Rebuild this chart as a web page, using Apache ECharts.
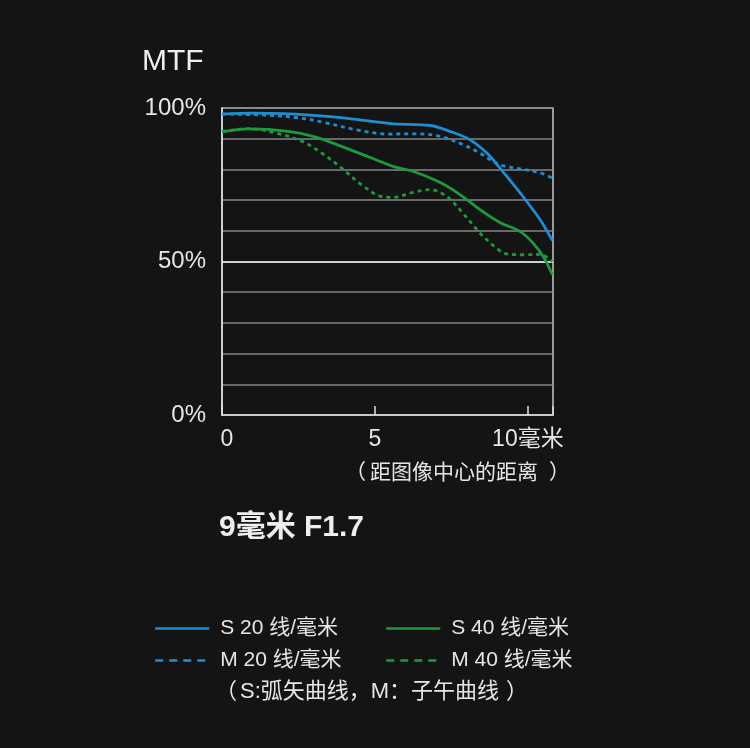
<!DOCTYPE html>
<html>
<head>
<meta charset="utf-8">
<script src="https://cdn.jsdelivr.net/npm/echarts@6/dist/echarts.min.js"></script>
<style>
html,body{margin:0;padding:0;background:#141414;}
#c{width:750px;height:748px;}
</style>
</head>
<body>
<div id="c"></div>
<script>
var FONT = '"Liberation Sans", Arial, "Noto Sans CJK SC", sans-serif';
var seriesNames = ['S 20 线/毫米', 'M 20 线/毫米', 'S 40 线/毫米', 'M 40 线/毫米'];
var yTickLabels = ['0%', '50%', '100%'];
var xTickLabels = ['0', '5', '10毫米'];
var xAxisNote = '距图像中心的距离';
var legendNote = 'S:弧矢曲线，M：子午曲线';

var xS20 = [0, 1.0, 2.4, 3.0, 4.1, 5.2, 5.65, 6.8, 7.45, 8.1, 8.65, 9.08, 9.74, 10.4, 10.8];
var yS20 = [98.0, 98.3, 98.0, 97.6, 96.6, 95.3, 94.8, 94.3, 92.4, 89.7, 85.4, 80.5, 72.4, 63.6, 56.8];

var xM20 = [0, 1.4, 2.5, 3.37, 4.35, 5.43, 6.24, 7.12, 7.87, 8.4, 8.86, 9.18, 9.74, 10.4, 10.8];
var yM20 = [98.0, 97.7, 96.8, 95.2, 93.0, 91.5, 91.6, 90.8, 88.1, 85.5, 82.6, 81.2, 80.2, 78.9, 77.2];

var xS40 = [0, 0.86, 2.17, 3.04, 3.91, 4.78, 5.65, 6.24, 7.12, 7.78, 8.43, 9.08, 9.74, 10.17, 10.5, 10.8];
var yS40 = [92.2, 93.2, 92.4, 90.6, 87.5, 84.1, 80.8, 79.4, 75.8, 71.8, 66.9, 62.7, 59.8, 56.0, 51.6, 45.7];

var xM40 = [0, 0.86, 1.73, 2.6, 3.25, 3.9, 4.56, 5.2, 5.6, 6.24, 6.8, 7.34, 7.87, 8.43, 8.97, 9.3, 9.85, 10.4, 10.8];
var yM40 = [92.3, 93.3, 91.9, 89.2, 85.4, 80.5, 75.0, 71.2, 70.9, 72.5, 73.4, 71.2, 65.8, 59.3, 54.4, 52.5, 52.2, 52.3, 50.0];

var BLUE = '#1b8fd2';
var GREEN = '#1c9a3c';
var TXT = '#e6e6e6';

function pairs(xs, ys) {
  return xs.map(function (x, i) { return [x, ys[i]]; });
}

function mkSeries(name, xs, ys, color, dashed, extra) {
  var s = {
    name: name,
    type: 'line',
    smooth: 0.35,
    symbol: 'none',
    data: pairs(xs, ys),
    lineStyle: { color: color, width: 2.8, type: dashed ? [4, 4] : 'solid' },
    itemStyle: { color: color },
    z: 3
  };
  if (extra) { for (var k in extra) s[k] = extra[k]; }
  return s;
}

function mkLegend(name, left, top, color, dashed) {
  return {
    data: [name],
    left: left,
    top: top,
    orient: 'horizontal',
    padding: 0,
    itemWidth: 54,
    itemHeight: 14,
    itemStyle: { opacity: 0 },
    lineStyle: { color: color, width: 2.5, type: dashed ? [8, 6] : 'solid', opacity: 1 },
    textStyle: { color: TXT, fontSize: 21, fontFamily: FONT, padding: [0, 0, 0, 6] },
    selectedMode: false
  };
}

function parenText(left, top, size, body, padIn, padOut) {
  return {
    type: 'text', left: left, top: top, silent: true,
    style: {
      text: '{p|（}{m|' + body + '}{q|）}',
      fill: TXT,
      rich: {
        p: { fontSize: size, fontFamily: FONT, fill: TXT },
        m: { fontSize: size, fontFamily: FONT, fill: TXT, padding: [0, 0, 0, padIn] },
        q: { fontSize: size, fontFamily: FONT, fill: TXT, padding: [0, 0, 0, padOut] }
      }
    }
  };
}

var chart = echarts.init(document.getElementById('c'), null, { renderer: 'canvas' });

var option = {
  backgroundColor: '#141414',
  animation: false,
  title: [
    { text: 'MTF', left: 142, top: 47, padding: 0,
      textStyle: { color: '#eeeeee', fontSize: 30, fontWeight: 'normal', fontFamily: FONT } },
    { text: '9毫米 F1.7', left: 219, top: 513, padding: 0,
      textStyle: { color: '#eeeeee', fontSize: 30, fontWeight: 'bold', fontFamily: FONT } }
  ],
  legend: [
    mkLegend(seriesNames[0], 154, 618, BLUE, false),
    mkLegend(seriesNames[1], 154, 650, BLUE, true),
    mkLegend(seriesNames[2], 385, 618, GREEN, false),
    mkLegend(seriesNames[3], 385, 650, GREEN, true)
  ],
  grid: {
    left: 222, right: 197, top: 108, bottom: 333,
    show: true, borderColor: '#c8c8c8', borderWidth: 1.5, backgroundColor: 'transparent'
  },
  xAxis: {
    type: 'value', min: 0, max: 10.82, interval: 5,
    axisLine: { show: true, lineStyle: { color: '#e0e0e0', width: 1.5 } },
    axisTick: { show: true, inside: true, length: 9, lineStyle: { color: '#e0e0e0', width: 1.5 } },
    splitLine: { show: false },
    axisLabel: {
      color: TXT, fontSize: 23, fontFamily: FONT, margin: 13,
      formatter: function (v) {
        if (Math.abs(v) < 1e-6) return '{z|' + xTickLabels[0] + '}';
        if (Math.abs(v - 5) < 1e-6) return xTickLabels[1];
        if (Math.abs(v - 10) < 1e-6) return xTickLabels[2];
        return '';
      },
      rich: { z: { color: TXT, fontSize: 23, fontFamily: FONT, padding: [0, 0, 0, 10] } }
    }
  },
  yAxis: {
    type: 'value', min: 0, max: 100, interval: 10,
    axisLine: { show: true, lineStyle: { color: '#e0e0e0', width: 1.5 } },
    axisTick: { show: false },
    splitLine: { show: true, lineStyle: { color: '#858585', width: 1.5 } },
    axisLabel: {
      color: TXT, fontSize: 24, fontFamily: FONT, margin: 16,
      formatter: function (v) {
        if (v === 0) return yTickLabels[0];
        if (v === 50) return yTickLabels[1];
        if (v === 100) return yTickLabels[2];
        return '';
      }
    }
  },
  graphic: [
    parenText(345, 463, 21, xAxisNote, 4, 11),
    parenText(215, 681, 22, legendNote, 3, 7)
  ],
  series: [
    mkSeries(seriesNames[0], xS20, yS20, BLUE, false, {
      markLine: {
        silent: true, symbol: 'none', label: { show: false },
        lineStyle: { color: '#f2f2f2', width: 1.5, type: 'solid' },
        data: [{ yAxis: 50 }], z: 2
      }
    }),
    mkSeries(seriesNames[1], xM20, yM20, BLUE, true),
    mkSeries(seriesNames[2], xS40, yS40, GREEN, false),
    mkSeries(seriesNames[3], xM40, yM40, GREEN, true)
  ]
};

chart.setOption(option);
</script>
</body>
</html>
